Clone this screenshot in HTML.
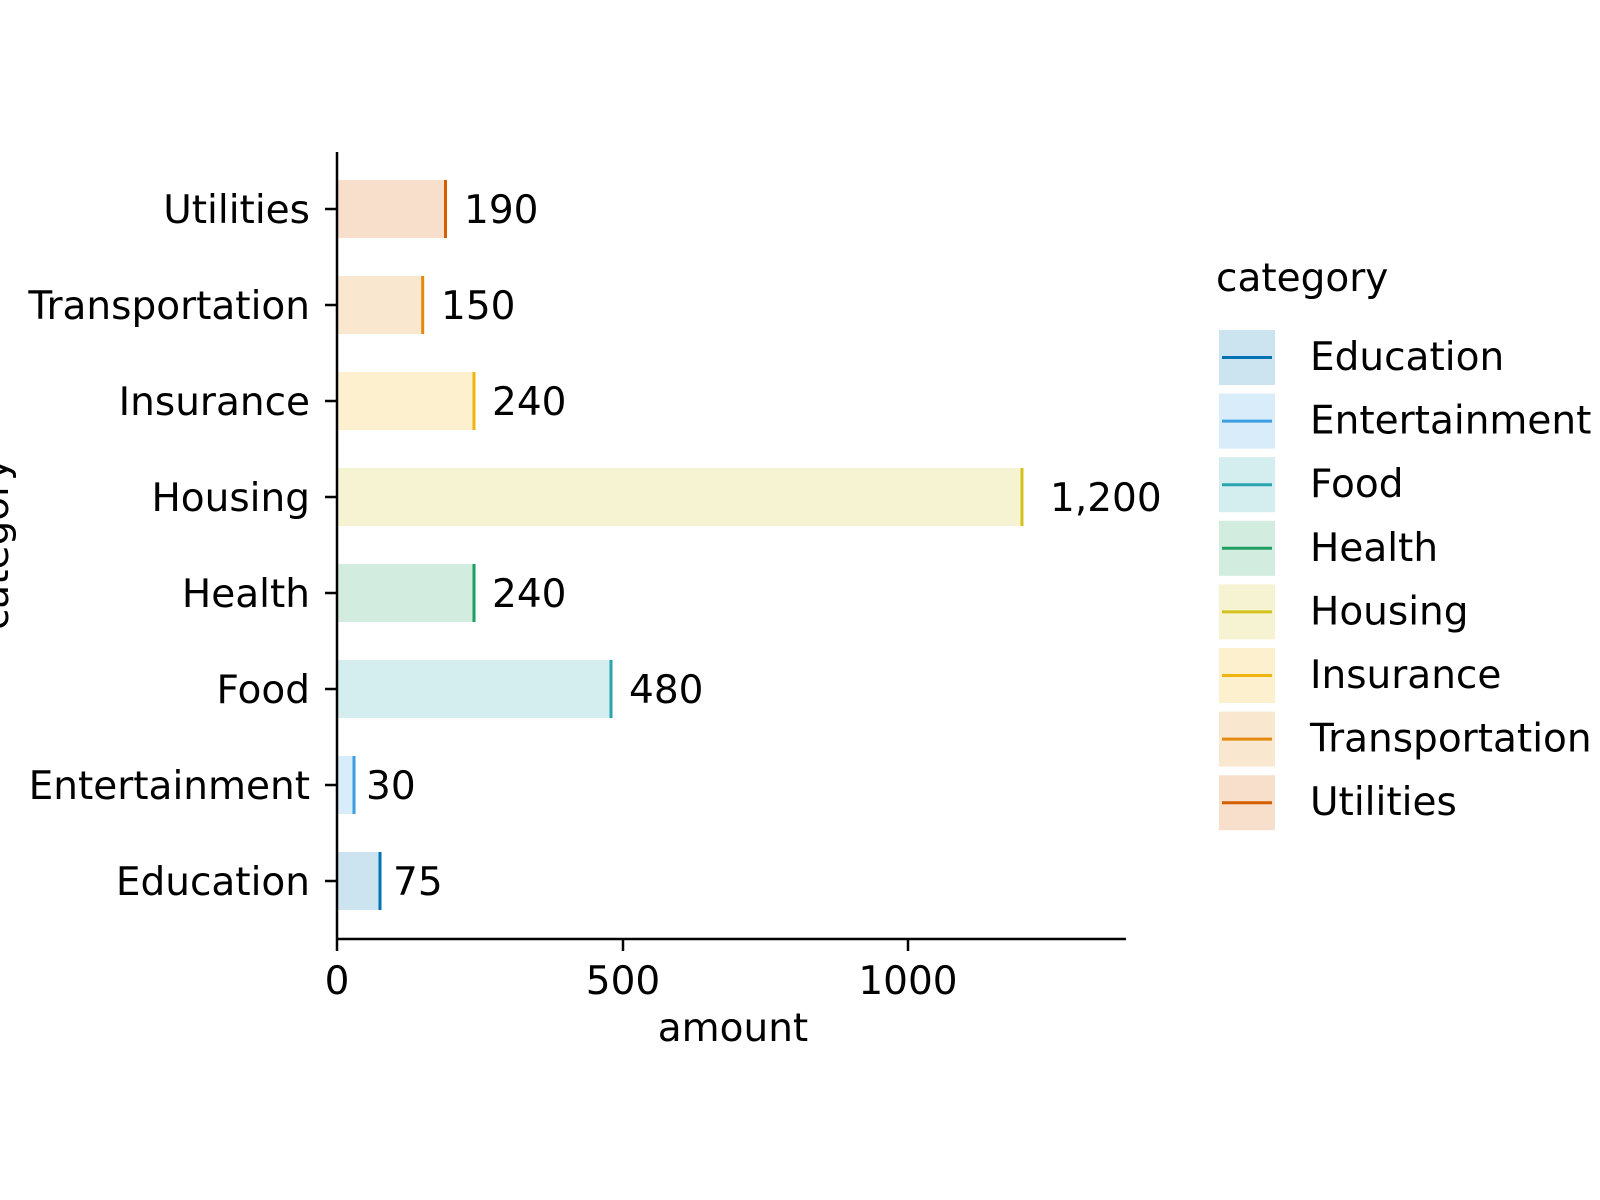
<!DOCTYPE html>
<html><head><style>body{margin:0;background:#fff}svg{display:block}</style></head><body>
<svg width="1600" height="1200" xmlns="http://www.w3.org/2000/svg" font-family="DejaVu Sans, Liberation Sans, sans-serif" font-size="39">
<rect width="1600" height="1200" fill="#fff"/>
<g id="bars">
<rect x="337" y="180" width="108.5" height="58" fill="#d55e00" fill-opacity="0.2"/><line x1="445.5" y1="180" x2="445.5" y2="238" stroke="#d55e00" stroke-width="3"/>
<rect x="337" y="276" width="85.7" height="58" fill="#e38a0e" fill-opacity="0.2"/><line x1="422.7" y1="276" x2="422.7" y2="334" stroke="#e38a0e" stroke-width="3"/>
<rect x="337" y="372" width="137" height="58" fill="#f0b40e" fill-opacity="0.2"/><line x1="474" y1="372" x2="474" y2="430" stroke="#f0b40e" stroke-width="3"/>
<rect x="337" y="468" width="685" height="58" fill="#d4c21c" fill-opacity="0.2"/><line x1="1022" y1="468" x2="1022" y2="526" stroke="#d4c21c" stroke-width="3"/>
<rect x="337" y="564" width="137" height="58" fill="#1f9e62" fill-opacity="0.2"/><line x1="474" y1="564" x2="474" y2="622" stroke="#1f9e62" stroke-width="3"/>
<rect x="337" y="660" width="274" height="58" fill="#2aa5b0" fill-opacity="0.2"/><line x1="611" y1="660" x2="611" y2="718" stroke="#2aa5b0" stroke-width="3"/>
<rect x="337" y="756" width="17" height="58" fill="#3a9ee0" fill-opacity="0.2"/><line x1="354" y1="756" x2="354" y2="814" stroke="#3a9ee0" stroke-width="3"/>
<rect x="337" y="852" width="43" height="58" fill="#0173b2" fill-opacity="0.2"/><line x1="380" y1="852" x2="380" y2="910" stroke="#0173b2" stroke-width="3"/>
</g>
<g fill="#000">
<text x="464" y="223">190</text>
<text x="441" y="319">150</text>
<text x="492" y="415">240</text>
<text x="1050" y="511">1,200</text>
<text x="492" y="607">240</text>
<text x="629" y="703">480</text>
<text x="366" y="799">30</text>
<text x="393" y="895">75</text>
</g>
<g stroke="#000" stroke-width="2.5">
<line x1="337" y1="152" x2="337" y2="939"/>
<line x1="336" y1="939" x2="1126" y2="939"/>
<line x1="325" y1="209" x2="337" y2="209"/><line x1="325" y1="305" x2="337" y2="305"/>
<line x1="325" y1="401" x2="337" y2="401"/><line x1="325" y1="497" x2="337" y2="497"/>
<line x1="325" y1="593" x2="337" y2="593"/><line x1="325" y1="689" x2="337" y2="689"/>
<line x1="325" y1="785" x2="337" y2="785"/><line x1="325" y1="881" x2="337" y2="881"/>
<line x1="337" y1="939" x2="337" y2="951"/><line x1="623" y1="939" x2="623" y2="951"/><line x1="908" y1="939" x2="908" y2="951"/>
</g>
<g text-anchor="end">
<text x="310" y="223">Utilities</text>
<text x="310" y="319">Transportation</text>
<text x="310" y="415">Insurance</text>
<text x="310" y="511">Housing</text>
<text x="310" y="607">Health</text>
<text x="310" y="703">Food</text>
<text x="310" y="799">Entertainment</text>
<text x="310" y="895">Education</text>
</g>
<g text-anchor="middle">
<text x="337" y="994">0</text><text x="623" y="994">500</text><text x="908" y="994">1000</text>
<text x="733" y="1041">amount</text>
<text transform="translate(8,544) rotate(-90)">category</text>
</g>
<text x="1216" y="291">category</text>
<g>
<rect x="1219" y="330" width="56" height="55" fill="#0173b2" fill-opacity="0.2"/><line x1="1222" y1="357.5" x2="1272" y2="357.5" stroke="#0173b2" stroke-width="3"/><text x="1310" y="370">Education</text>
<rect x="1219" y="393.6" width="56" height="55" fill="#3a9ee0" fill-opacity="0.2"/><line x1="1222" y1="421.1" x2="1272" y2="421.1" stroke="#3a9ee0" stroke-width="3"/><text x="1310" y="433.6">Entertainment</text>
<rect x="1219" y="457.2" width="56" height="55" fill="#2aa5b0" fill-opacity="0.2"/><line x1="1222" y1="484.7" x2="1272" y2="484.7" stroke="#2aa5b0" stroke-width="3"/><text x="1310" y="497.2">Food</text>
<rect x="1219" y="520.8" width="56" height="55" fill="#1f9e62" fill-opacity="0.2"/><line x1="1222" y1="548.3" x2="1272" y2="548.3" stroke="#1f9e62" stroke-width="3"/><text x="1310" y="560.8">Health</text>
<rect x="1219" y="584.4" width="56" height="55" fill="#d4c21c" fill-opacity="0.2"/><line x1="1222" y1="611.9" x2="1272" y2="611.9" stroke="#d4c21c" stroke-width="3"/><text x="1310" y="624.4">Housing</text>
<rect x="1219" y="648" width="56" height="55" fill="#f0b40e" fill-opacity="0.2"/><line x1="1222" y1="675.5" x2="1272" y2="675.5" stroke="#f0b40e" stroke-width="3"/><text x="1310" y="688">Insurance</text>
<rect x="1219" y="711.6" width="56" height="55" fill="#e38a0e" fill-opacity="0.2"/><line x1="1222" y1="739.1" x2="1272" y2="739.1" stroke="#e38a0e" stroke-width="3"/><text x="1310" y="751.6">Transportation</text>
<rect x="1219" y="775.2" width="56" height="55" fill="#d55e00" fill-opacity="0.2"/><line x1="1222" y1="802.7" x2="1272" y2="802.7" stroke="#d55e00" stroke-width="3"/><text x="1310" y="815.2">Utilities</text>
</g>
</svg>
</body></html>
